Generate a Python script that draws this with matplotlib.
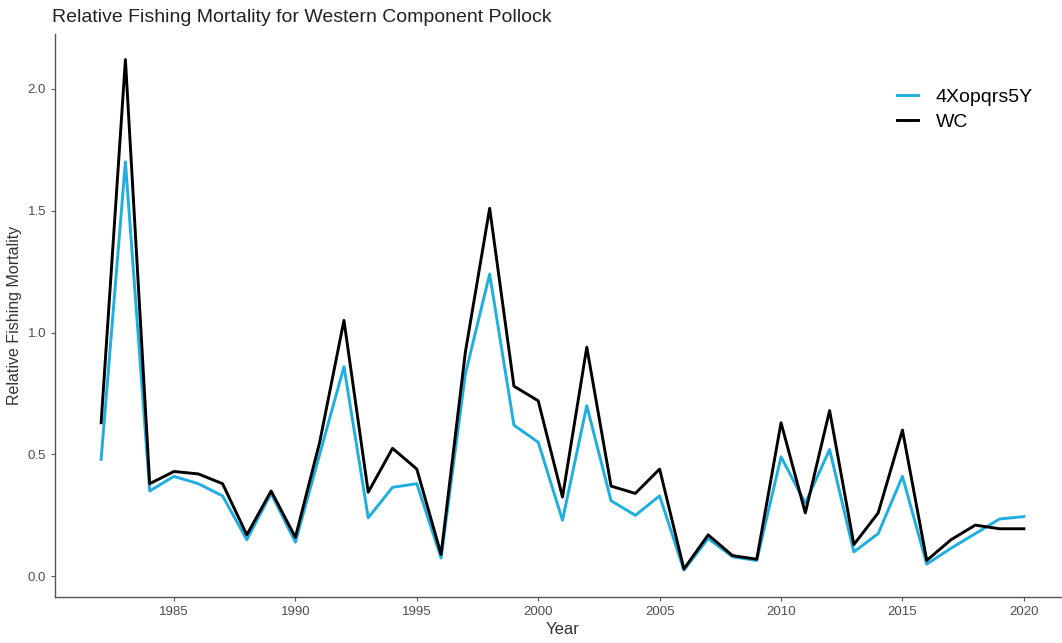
import numpy as np
import matplotlib.pyplot as plt

plt.rcParams['font.family'] = ['Liberation Sans', 'DejaVu Sans']

years = np.arange(1982, 2021)
wc = [0.63, 2.12, 0.38, 0.43, 0.42, 0.38, 0.17, 0.35, 0.16, 0.55,
      1.05, 0.345, 0.525, 0.44, 0.09, 0.92, 1.51, 0.78, 0.72, 0.325,
      0.94, 0.37, 0.34, 0.44, 0.03, 0.17, 0.085, 0.07, 0.63, 0.26,
      0.68, 0.13, 0.26, 0.60, 0.065, 0.15, 0.21, 0.195, 0.195]
area = [0.48, 1.70, 0.35, 0.41, 0.38, 0.33, 0.15, 0.34, 0.14, 0.50,
        0.86, 0.24, 0.365, 0.38, 0.075, 0.83, 1.24, 0.62, 0.55, 0.23,
        0.70, 0.31, 0.25, 0.33, 0.025, 0.155, 0.08, 0.065, 0.49, 0.30,
        0.52, 0.10, 0.175, 0.41, 0.05, 0.115, 0.175, 0.235, 0.245]

fig = plt.figure(figsize=(10.62, 6.43), dpi=100)
ax = fig.add_axes([55 / 1062, 46 / 643, 1015 / 1062, 563 / 643])

ax.plot(years, area, color='#1eaee0', lw=2.1, label='4Xopqrs5Y')
ax.plot(years, wc, color='black', lw=2.1, label='WC')

ax.set_xlim(1980.1, 2021.9)
ax.set_ylim(-0.085, 2.225)
ax.set_xticks(np.arange(1985, 2021, 5))
ax.set_yticks([0.0, 0.5, 1.0, 1.5, 2.0])
ax.set_yticklabels(['0.0', '0.5', '1.0', '1.5', '2.0'])

for s in ['top', 'right']:
    ax.spines[s].set_visible(False)
for s in ['left', 'bottom']:
    ax.spines[s].set_color('#555555')
    ax.spines[s].set_linewidth(1.0)
ax.tick_params(colors='#555555', labelcolor='#4d4d4d', labelsize=9.5,
               length=3, width=0.8)

ax.set_xlabel('Year', fontsize=12, color='#333333', labelpad=3)
ax.set_ylabel('Relative Fishing Mortality', fontsize=11.5, color='#333333', labelpad=4)
fig.text(52 / 1062, 1 - 18 / 643, 'Relative Fishing Mortality for Western Component Pollock',
         fontsize=14, color='#222222', va='center', ha='left')

ax.legend(loc='upper left', bbox_to_anchor=(0.812, 0.935), frameon=False,
          fontsize=14, handlelength=1.1, handletextpad=0.9, labelspacing=0.4)

fig.savefig('out.png', dpi=100)
